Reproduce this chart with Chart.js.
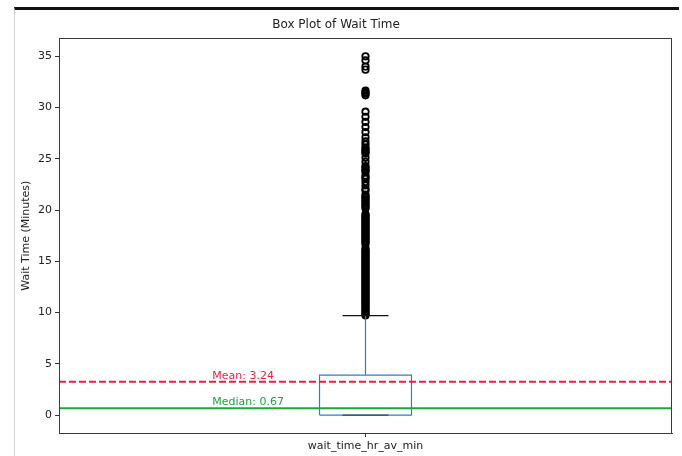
<!DOCTYPE html>
<html>
<head>
<meta charset="utf-8">
<script src="https://cdn.jsdelivr.net/npm/chart.js@4.4.0/dist/chart.umd.min.js"></script>
<style>
  html, body { margin: 0; padding: 0; background: #fff; }
  #wrap { position: relative; width: 682px; height: 456px; }
  #frame { position: absolute; left: 14px; top: 7px; width: 664px; height: 449px;
           border-top: 3px solid #111; border-left: 1px solid #d4d4d4; pointer-events: none; }
</style>
</head>
<body>
<div id="wrap">
  <canvas id="boxChart" width="682" height="456"></canvas>
  <div id="frame"></div>
</div>
<script>
const category = 'wait_time_hr_av_min';
const yTicks = [0, 5, 10, 15, 20, 25, 30, 35];

// box stats
const boxRange = [0, 3.9];      // q1, q3
const whiskers = [0, 9.7];      // low, high
const meanValue = 3.24;
const medianValue = 0.67;

// outliers (dense column above the upper whisker)
const fliers = [
  9.72, 9.85, 9.98, 10.1, 10.27, 10.4, 10.52, 10.68, 10.8, 10.93, 11.07, 11.2, 11.35, 11.48,
  11.6, 11.75, 11.88, 12.0, 12.13, 12.27, 12.4, 12.55, 12.67, 12.8, 12.95, 13.08, 13.2, 13.33,
  13.47, 13.6, 13.73, 13.87, 14.0, 14.13, 14.27, 14.4, 14.53, 14.67, 14.8, 14.95, 15.07, 15.2,
  15.33, 15.47, 15.6, 15.73, 15.87, 16.0, 16.13, 16.27,
  16.67, 16.8, 16.93, 17.07, 17.2, 17.33, 17.47, 17.6, 17.73, 17.87, 18.0, 18.13, 18.27, 18.4,
  18.53, 18.67, 18.8, 18.93, 19.07, 19.2, 19.33, 19.47, 19.6,
  20.15, 20.3, 20.45, 20.6, 20.75, 20.9, 21.05, 21.2, 21.35, 21.5, 21.9, 22.05, 22.4, 22.75,
  23.05, 23.2, 23.35, 23.7, 23.85, 24.0, 24.15, 24.3, 24.7, 25.1, 25.5, 25.65, 25.8, 25.95,
  26.1, 26.4,
  26.7, 27.1, 27.6, 28.1, 28.6, 29.1, 29.6,
  31.2, 31.35, 31.5, 31.65,
  33.7, 34.0, 34.6, 35.0
];

const boxHalf = 0.075;
const capHalf = 0.0375;
const labelX = 0.75;

function seg(x0, y0, x1, y1) {
  return [{x: x0, y: y0}, {x: x1, y: y1}];
}

const lineStyle = { showLine: true, pointRadius: 0, fill: false, borderWidth: 1.2 };

const annotate = {
  id: 'annotate',
  afterDraw(chart) {
    const {ctx, chartArea: a, scales: {x, y}} = chart;
    ctx.save();
    ctx.strokeStyle = '#3a3a3a';
    ctx.lineWidth = 1;
    ctx.strokeRect(Math.round(a.left) + 0.5, Math.round(a.top) + 0.5,
      Math.round(a.right - a.left) - 1, Math.round(a.bottom - a.top));
    ctx.font = '11px "DejaVu Sans"';
    ctx.textBaseline = 'alphabetic';
    ctx.fillStyle = '#f01c3c';
    ctx.fillText('Mean: ' + meanValue.toFixed(2), x.getPixelForValue(labelX), y.getPixelForValue(meanValue + 0.3));
    ctx.fillStyle = '#18a83c';
    ctx.fillText('Median: ' + medianValue.toFixed(2), x.getPixelForValue(labelX), y.getPixelForValue(medianValue + 0.3));
    ctx.restore();
  }
};

new Chart(document.getElementById('boxChart'), {
  type: 'scatter',
  data: {
    datasets: [
      { ...lineStyle, data: seg(0.5, meanValue, 1.5, meanValue), borderColor: '#f01c3c', borderWidth: 2, borderDash: [7, 3] },
      { ...lineStyle, data: seg(0.5, medianValue, 1.5, medianValue), borderColor: '#18a83c', borderWidth: 2 },
      { ...lineStyle, data: seg(1 - capHalf, whiskers[0], 1 + capHalf, whiskers[0]), borderColor: '#444' },
      { ...lineStyle, data: seg(1 - capHalf, whiskers[1], 1 + capHalf, whiskers[1]), borderColor: '#111' },
      { ...lineStyle, data: seg(1, boxRange[1], 1, whiskers[1]), borderColor: '#2f80c0' },
      { ...lineStyle, borderColor: '#2f80c0', data: [
          {x: 1 - boxHalf, y: boxRange[0]}, {x: 1 + boxHalf, y: boxRange[0]},
          {x: 1 + boxHalf, y: boxRange[1]}, {x: 1 - boxHalf, y: boxRange[1]},
          {x: 1 - boxHalf, y: boxRange[0]}
        ] },
      { data: fliers.map(v => ({x: 1, y: v})), pointRadius: 3.2, pointBorderWidth: 1.8,
        pointBorderColor: '#000', pointBackgroundColor: 'rgba(0,0,0,0)', showLine: false }
    ]
  },
  options: {
    responsive: false,
    animation: false,
    layout: { padding: { left: 0, right: 10, top: 0, bottom: 0 } },
    plugins: {
      legend: { display: false },
      tooltip: { enabled: false },
      title: {
        display: true,
        text: 'Box Plot of Wait Time',
        color: '#222',
        font: { family: 'DejaVu Sans', size: 12, weight: 'normal' },
        padding: { top: 18, bottom: 6 }
      }
    },
    scales: {
      x: {
        type: 'linear', min: 0.5, max: 1.5,
        afterBuildTicks: s => { s.ticks = [{value: 1}]; },
        afterFit: s => { s.height = 23; },
        grid: { display: true, drawOnChartArea: false, drawTicks: true, tickLength: 4, color: '#333' },
        border: { color: '#3a3a3a' },
        ticks: { color: '#222', padding: 3, maxRotation: 0, font: { family: 'DejaVu Sans', size: 11 },
                 callback: () => category }
      },
      y: {
        min: -1.75, max: 36.75,
        afterBuildTicks: s => { s.ticks = yTicks.map(v => ({value: v})); },
        afterFit: s => { s.width = 59; },
        grid: { display: true, drawOnChartArea: false, drawTicks: true, tickLength: 4, color: '#333' },
        border: { color: '#3a3a3a' },
        ticks: { color: '#222', padding: 3, font: { family: 'DejaVu Sans', size: 11 } },
        title: {
          display: true, text: 'Wait Time (Minutes)', color: '#222',
          font: { family: 'DejaVu Sans', size: 11 }, padding: { top: 20, bottom: 0 }
        }
      }
    }
  },
  plugins: [annotate]
});
</script>
</body>
</html>
